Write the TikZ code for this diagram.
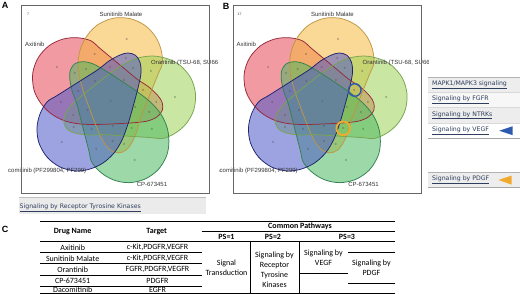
\documentclass[tikz,border=0pt]{standalone}
\usepackage{fontspec}
\setmainfont{Carlito}
\newfontfamily\vennfont{Liberation Sans}
\newfontfamily\linkfont{DejaVu Sans}
\definecolor{vred}{RGB}{232,72,84}
\definecolor{vorg}{RGB}{246,184,62}
\definecolor{vlg}{RGB}{158,210,86}
\definecolor{vcp}{RGB}{76,184,98}
\definecolor{vblu}{RGB}{78,88,200}
\definecolor{ored}{RGB}{150,40,60}
\definecolor{oorg}{RGB}{190,150,70}
\definecolor{olg}{RGB}{120,165,80}
\definecolor{ocp}{RGB}{50,130,80}
\definecolor{oblu}{RGB}{30,35,110}
\definecolor{linkc}{RGB}{47,62,92}
\definecolor{tblue}{RGB}{45,90,175}
\definecolor{torg}{RGB}{242,170,45}
\tikzset{
  vsh/.style={insert path={plot[smooth cycle,tension=0.55] coordinates{(9,-46.3) (17,-48.3) (24.5,-46) (29,-39) (30,-28.3) (27,-13.3) (22.5,3.7) (17,22.7) (11,38.7) (3,51.7) (-8,61.7) (-21,67.7) (-35,69.7) (-51,65.7) (-64,55.7) (-72,41.7) (-74,26.7) (-71,12.7) (-64,0.7) (-54,-5.7) (-41,-13.9) (-27,-22.8) (-13,-31.7) (-2,-40.3)}}},
  setlbl/.style={font=\vennfont\fontsize{6}{7}\selectfont, text=black!80, inner sep=0pt},
  reglbl/.style={font=\vennfont\fontsize{3}{3}\selectfont, text=black!70, inner sep=0pt},
  linktxt/.style={font=\linkfont\fontsize{6.2}{7}\selectfont, text=linkc, anchor=west, inner sep=0pt},
  tcell/.style={font=\fontsize{8}{10}\selectfont, align=center, inner sep=0pt},
  thead/.style={font=\bfseries\fontsize{8}{10}\selectfont, align=center, inner sep=0pt},
  plabel/.style={font=\vennfont\bfseries\fontsize{9}{10}\selectfont, inner sep=0pt},
  rule/.style={line width=1.2pt},
  tline/.style={line width=0.55pt},
}
\newcommand\vennpanel[3]{%
\begin{scope}[shift={(#1,0)}]
  \begin{scope}
    \clip (8,0) rectangle (217,196);
    \foreach \rr/\cc in {-72/vred,-144/vorg,-216/vlg,-288/vcp,0/vblu}{
      \begin{scope}[shift={(111,101.3)},rotate=\rr]
        \fill[\cc,fill opacity=0.55,vsh];
      \end{scope}}
    \foreach \rr/\cc in {-72/ored,-144/oorg,-216/olg,-288/ocp,0/oblu}{
      \begin{scope}[shift={(111,101.3)},rotate=\rr]
        \draw[\cc,line width=0.75pt,vsh];
      \end{scope}}
    \node[setlbl] (#3sun) at (121,14) {Sunitinib Malate};
    \node[setlbl,anchor=west] (#3axi) at (25,44) {Axitinib};
    \node[setlbl,anchor=west] (#3ora) at (151,62.5) {Orantinib (TSU-68, SU6668)};
    \node[setlbl,anchor=west] (#3dac) at (0.3,171) {Dacomitinib (PF299804, PF299)};
    \node[setlbl] (#3cp) at (152,184) {CP-673451};
    \node[setlbl,font=\vennfont\fontsize{3.5}{4}\selectfont] (#3tot) at (28,14) {#2};
    \begin{scope}[shift={(111,101.3)}]
      \node[reglbl] (#3c) at (0,0) {1};
      \foreach \ra/\an [count=\i] in {64/-75.8,25.2/-129.8,34/-91.4,40/-128.3,45.5/-142.8,50/-109.1}
        \foreach \k in {0,...,4}
          \node[reglbl] (#3d\i-\k) at ({\an+72*\k}:\ra) {0};
    \end{scope}
  \end{scope}
  \draw[black!60,line width=0.7pt] (21.5,5.5) rectangle (209.5,193.2);
\end{scope}}
\begin{document}
\begin{tikzpicture}[x=1pt,y=-1pt]
\useasboundingbox (0,0) rectangle (520,294);
\fill[white] (0,0) rectangle (520,294);
% panels
\node[plabel] (pA) at (5,5.5) {A};
\node[plabel] (pB) at (226,6.5) {B};
\node[plabel] (pC) at (5,229) {C};
\vennpanel{0}{7}{a}
\vennpanel{211.5}{17}{b}
% highlight rings in B
\draw[tblue,line width=1.4pt] (354.8,90) circle (6.3);
\draw[torg,line width=1.8pt] (343.2,128.3) circle (6.8);
% RTK bar
\fill[black!8] (18.5,197) rectangle (206,214);
\draw[black!25,line width=0.6pt] (18.5,197) -- (206,197);
\node[linktxt] (rtk) at (19.5,207.5) {\underline{Signaling by Receptor Tyrosine Kinases}};
% right list
\fill[black!7] (428,77) rectangle (520,92.3);
\fill[black!3] (428,92.3) rectangle (520,107.7);
\fill[black!7] (428,107.7) rectangle (520,123);
\fill[white] (428,123) rectangle (520,138.3);
\draw[black!30,line width=0.5pt] (428,77) -- (520,77);
\foreach \yy in {92.3,107.7,123}{\draw[black!15,line width=0.4pt] (428,\yy) -- (520,\yy);}
\draw[black!35,line width=0.6pt] (428,138.3) -- (520,138.3);
\node[linktxt] (l1) at (432,84.7) {\underline{MAPK1/MAPK3 signaling}};
\node[linktxt] (l2) at (432,100) {\underline{Signaling by FGFR}};
\node[linktxt] (l3) at (432,115.3) {\underline{Signaling by NTRKs}};
\node[linktxt] (l4) at (432,130.7) {\underline{Signaling by VEGF}};
\fill[tblue] (499.3,130.7) -- (512.7,126.2) -- (512.7,135.2) -- cycle;
\fill[black!7] (428,172.7) rectangle (520,187.3);
\draw[black!30,line width=0.5pt] (428,172.7) -- (520,172.7);
\draw[black!35,line width=0.6pt] (428,187.3) -- (520,187.3);
\node[linktxt] (l5) at (432,180) {\underline{Signaling by PDGF}};
\fill[torg] (498.5,180) -- (511.5,175.6) -- (511.5,184.6) -- cycle;
% table
\draw[rule] (40,221.5) -- (395,221.5);
\draw[tline] (201.7,231.7) -- (395,231.7);
\draw[tline] (40,241.7) -- (395,241.7);
\foreach \yy in {252.7,263.7,275,286}{\draw[tline] (40,\yy) -- (201.7,\yy);}
\draw[rule] (40,293.4) -- (395,293.4);
\draw[tline] (250,241.7) -- (250,293.4);
\draw[tline] (299,241.7) -- (299,293.4);
\draw[tline] (299,273.3) -- (348,273.3);
\draw[tline] (348,252.3) -- (395,252.3);
\draw[tline] (348,283.3) -- (395,283.3);
\node[thead] (hdn) at (72.7,232) {Drug Name};
\node[thead] (htg) at (156.7,232) {Target};
\node[thead] (hcp) at (300,226.8) {Common Pathways};
\node[thead] (hp1) at (226.5,236.8) {PS=1};
\node[thead] (hp2) at (273,236.8) {PS=2};
\node[thead] (hp3) at (347,236.8) {PS=3};
\node[tcell] (d1) at (72.7,247.4) {Axitinib};
\node[tcell] (d2) at (72.7,258.4) {Sunitinib Malate};
\node[tcell] (d3) at (72.7,269.5) {Orantinib};
\node[tcell] (d4) at (72.7,280.6) {CP-673451};
\node[tcell] (d5) at (72.7,290) {Dacomitinib};
\node[tcell] (t1) at (157.5,247.4) {c-Kit,PDGFR,VEGFR};
\node[tcell] (t2) at (157.5,258.4) {c-Kit,PDGFR,VEGFR};
\node[tcell] (t3) at (157.5,269.5) {FGFR,PDGFR,VEGFR};
\node[tcell] (t4) at (157.5,280.6) {PDGFR};
\node[tcell] (t5) at (157.5,290) {EGFR};
\node[tcell] (c1) at (226.5,267.8) {Signal\\Transduction};
\node[tcell] (c2) at (274.5,269.5) {Signaling by\\Receptor\\Tyrosine\\Kinases};
\node[tcell] (c3) at (323.5,257.5) {Signaling by\\VEGF};
\node[tcell] (c4) at (371.5,268) {Signaling by\\PDGF};
\end{tikzpicture}
\end{document}
